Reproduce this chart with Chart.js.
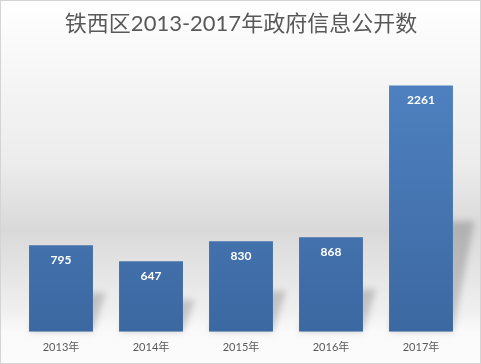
<!DOCTYPE html>
<html>
<head>
<meta charset="utf-8">
<script src="https://cdn.jsdelivr.net/npm/chart.js@4/dist/chart.umd.min.js"></script>
<style>
  html, body { margin: 0; padding: 0; background: #fff; }
  #wrap { width: 481px; height: 364px; }
</style>
</head>
<body>
<div id="wrap"><canvas id="c" width="481" height="364"></canvas></div>
<script>
const years = ['2013年', '2014年', '2015年', '2016年', '2017年'];
const counts = [795, 647, 830, 868, 2261];
const titleText = '铁西区2013-2017年政府信息公开数';
const FONT = 'Lato, "Noto Sans CJK SC", sans-serif';

// 背景 + 外框
const bgPlugin = {
  id: 'bg',
  beforeDraw(chart) {
    const { ctx, width, height } = chart;
    const g = ctx.createLinearGradient(0, 0, 0, height);
    g.addColorStop(0, '#ffffff');
    g.addColorStop(0.18, '#f7f7f7');
    g.addColorStop(0.45, '#ececec');
    g.addColorStop(0.63, '#d9d9d9');
    g.addColorStop(0.86, '#f0f0f0');
    g.addColorStop(0.91, '#fafafa');
    g.addColorStop(1, '#fbfbfb');
    ctx.save();
    ctx.fillStyle = g;
    ctx.fillRect(0, 0, width, height);
    ctx.restore();
  },
  afterDraw(chart) {
    const { ctx, width, height } = chart;
    ctx.save();
    ctx.strokeStyle = '#d4d4d4';
    ctx.lineWidth = 1;
    ctx.strokeRect(0.5, 0.5, width - 1, height - 1);
    ctx.restore();
  }
};

// 柱子的斜投影
const shadowPlugin = {
  id: 'barShadow',
  beforeDatasetsDraw(chart) {
    const { ctx } = chart;
    const meta = chart.getDatasetMeta(0);
    ctx.save();
    ctx.filter = 'blur(3px)';
    ctx.fillStyle = 'rgba(0,0,0,0.18)';
    meta.data.forEach(bar => {
      const half = bar.width / 2;
      const xl = bar.x - half, xr = bar.x + half;
      const h = bar.base - bar.y;
      const sh = h * 0.45;
      const s = Math.min(22, 8 + sh * 0.12);
      ctx.beginPath();
      ctx.moveTo(xl, bar.base);
      ctx.lineTo(xr, bar.base);
      ctx.lineTo(xr + s, bar.base - sh);
      ctx.lineTo(xl + s, bar.base - sh);
      ctx.closePath();
      ctx.fill();
    });
    ctx.restore();
  }
};

// 数值标签
const labelPlugin = {
  id: 'valueLabels',
  afterDatasetsDraw(chart) {
    const { ctx } = chart;
    const meta = chart.getDatasetMeta(0);
    ctx.save();
    ctx.fillStyle = '#ffffff';
    ctx.font = 'bold 12px ' + FONT;
    ctx.textAlign = 'center';
    ctx.textBaseline = 'middle';
    meta.data.forEach((bar, i) => {
      ctx.fillText(String(counts[i]), bar.x, bar.y + 15);
    });
    ctx.restore();
  }
};

new Chart(document.getElementById('c'), {
  type: 'bar',
  data: {
    labels: years,
    datasets: [{
      data: counts,
      backgroundColor(ctx) {
        const area = ctx.chart.chartArea;
        if (!area) return '#4a7ab8';
        const g = ctx.chart.ctx.createLinearGradient(0, area.top, 0, area.bottom);
        g.addColorStop(0, '#5083c3');
        g.addColorStop(1, '#3c68a1');
        return g;
      },
      borderWidth: 0,
      categoryPercentage: 1,
      barPercentage: 0.71
    }]
  },
  options: {
    responsive: false,
    animation: false,
    layout: { padding: { left: 16, right: 15, top: 0, bottom: 9 } },
    plugins: {
      legend: { display: false },
      tooltip: { enabled: false },
      title: {
        display: true,
        text: titleText,
        color: '#595959',
        font: { family: FONT, size: 22, weight: 'normal' },
        padding: { top: 11, bottom: 22 }
      }
    },
    scales: {
      x: {
        grid: { display: false },
        border: { display: false },
        ticks: { color: '#595959', font: { family: FONT, size: 11 }, padding: 1 }
      },
      y: {
        display: false,
        min: 0,
        max: 2500
      }
    }
  },
  plugins: [bgPlugin, shadowPlugin, labelPlugin]
});
</script>
</body>
</html>
